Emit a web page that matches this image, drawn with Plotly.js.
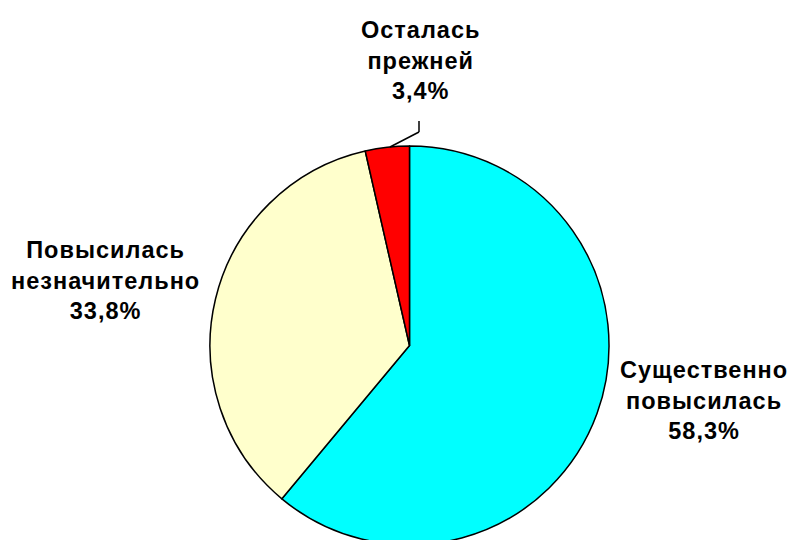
<!DOCTYPE html>
<html>
<head>
<meta charset="utf-8">
<script src="https://cdn.plot.ly/plotly-3.0.1.min.js"></script>
<style>
html,body{margin:0;padding:0;overflow:hidden;background:#fff;}
#chart{width:794px;height:546px;}
.annotation-text{letter-spacing:1px;}
</style>
</head>
<body>
<div id="chart"></div>
<script>
const categories = ['Существенно<br>повысилась', 'Повысилась<br>незначительно', 'Осталась<br>прежней'];
const values = [58.3, 33.8, 3.4];
const colors = ['#00FFFF', '#FFFFCC', '#FF0000'];

const H = 546, W = 794;
const py = p => (H - p) / H;
const px = p => p / W;

const pctText = values.map(v => v.toFixed(1).replace('.', ',') + '%');

const trace = {
  type: 'pie',
  values: values,
  labels: categories,
  sort: false,
  direction: 'clockwise',
  rotation: 0,
  marker: {colors: colors, line: {color: '#000000', width: 1.5}},
  textinfo: 'none',
  hoverinfo: 'none',
  showlegend: false,
  domain: {x: [px(210), px(609)], y: [py(545), py(146)]}
};

const labelPos = [
  {x: 704, y: 400},
  {x: 105, y: 280},
  {x: 420, y: 60}
];

const annotations = categories.map((c, i) => ({
  xref: 'paper', yref: 'paper',
  x: px(labelPos[i].x), y: py(labelPos[i].y),
  xanchor: 'center', yanchor: 'middle',
  text: '<b>' + c + '<br>' + pctText[i] + '</b>',
  showarrow: false,
  align: 'center',
  font: {family: 'Liberation Sans, Arial, sans-serif', size: 23.5, color: '#000'}
}));

const layout = {
  width: W, height: H,
  margin: {l: 0, r: 0, t: 0, b: 0},
  paper_bgcolor: '#ffffff',
  annotations: annotations,
  shapes: [
    {type: 'line', xref: 'paper', yref: 'paper', x0: px(419), y0: py(121), x1: px(419), y1: py(132), line: {color: '#000', width: 1.5}},
    {type: 'line', xref: 'paper', yref: 'paper', x0: px(419), y0: py(132), x1: px(390), y1: py(147), line: {color: '#000', width: 1.5}}
  ]
};

Plotly.newPlot('chart', [trace], layout, {staticPlot: true});
</script>
</body>
</html>
